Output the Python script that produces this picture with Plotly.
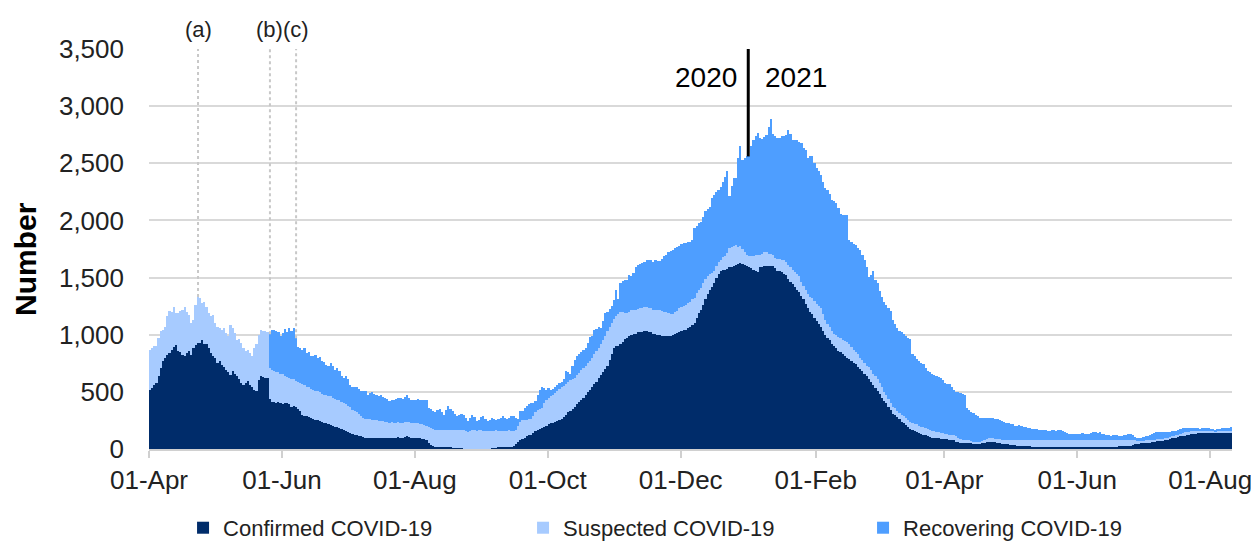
import pandas as pd
import plotly.graph_objects as go

# ---------------- data (daily, 01-Apr-2020 .. 10-Aug-2021) ----------------
start_date = "2020-04-01"

confirmed = [
    # Apr 2020
    520, 530, 560, 580, 640, 710, 770, 800, 820, 840, 870, 890, 910, 855, 850, 825, 810, 840, 855, 825,
    880, 910, 930, 930, 950, 920, 915, 880, 840, 810,
    # May 2020
    800, 755, 770, 735, 715, 695, 670, 650, 680, 660, 640, 610, 580, 560, 580, 595, 560, 540, 520, 510,
    600, 635, 630, 620, 625, 435, 410, 410, 400, 415, 400,
    # Jun 2020
    395, 400, 400, 390, 370, 380, 365, 350, 335, 300, 290, 285, 280, 270, 265, 255, 250, 245, 235, 230,
    225, 215, 210, 200, 195, 190, 180, 175, 165, 160,
    # Jul 2020
    150, 140, 130, 125, 120, 115, 110, 105, 100, 100, 100, 95, 100, 100, 95, 95, 100, 100, 95, 95,
    100, 100, 100, 105, 100, 100, 105, 110, 105, 100, 100,
    # Aug 2020
    100, 100, 95, 90, 85, 75, 50, 35, 25, 20, 17, 17, 15, 15, 15, 15, 15, 12, 10, 5,
    5, 5, 4, 4, 3, 3, 3, 3, 3, 3, 3,
    # Sep 2020
    3, 3, 3, 3, 5, 10, 12, 15, 15, 15, 15, 15, 18, 20, 25, 40, 60, 80, 90, 100,
    110, 120, 125, 140, 155, 170, 175, 185, 195, 205,
    # Oct 2020
    215, 225, 230, 240, 245, 255, 265, 280, 300, 320, 335, 350, 370, 390, 410, 430, 450, 470, 495, 520,
    540, 565, 590, 620, 645, 670, 700, 725, 780, 830, 885,
    # Nov 2020
    900, 905, 915, 935, 960, 975, 990, 1000, 1005, 1010, 1020, 1020, 1025, 1030, 1030, 1025, 1020, 1010, 1005, 1000,
    995, 990, 985, 985, 985, 990, 1000, 1005, 1015, 1020,
    # Dec 2020
    1030, 1040, 1045, 1055, 1070, 1085, 1100, 1150, 1190, 1220, 1260, 1310, 1355, 1390, 1420, 1450, 1500, 1530, 1560, 1570,
    1570, 1575, 1590, 1595, 1600, 1610, 1620, 1630, 1620, 1610, 1600,
    # Jan 2021
    1590, 1580, 1570, 1560, 1545, 1590, 1595, 1600, 1605, 1600, 1600, 1605, 1580, 1560, 1555, 1545, 1535, 1520, 1490, 1460,
    1440, 1420, 1395, 1370, 1340, 1310, 1270, 1230, 1200, 1180, 1150,
    # Feb 2021
    1120, 1095, 1070, 1035, 1000, 975, 950, 920, 900, 880, 860, 845, 830, 815, 800, 785, 770, 755, 740, 720,
    700, 680, 660, 635, 610, 585, 560, 535,
    # Mar 2021
    510, 480, 450, 420, 400, 370, 340, 310, 300, 280, 260, 240, 230, 210, 190, 175, 165, 155, 150, 140,
    135, 125, 120, 110, 105, 100, 95, 95, 95, 90, 90,
    # Apr 2021
    85, 85, 80, 80, 75, 65, 60, 55, 50, 50, 50, 50, 50, 50, 50, 50, 50, 50, 55, 60,
    65, 65, 65, 60, 55, 50, 45, 45, 40, 40,
    # May 2021
    35, 35, 35, 30, 30, 30, 30, 25, 25, 25, 20, 20, 20, 20, 20, 20, 20, 20, 20, 20,
    20, 20, 20, 20, 20, 20, 20, 20, 20, 20, 20,
    # Jun 2021
    20, 20, 20, 20, 20, 20, 20, 20, 20, 15, 15, 15, 15, 15, 20, 20, 20, 20, 20, 25,
    25, 25, 25, 30, 30, 35, 40, 45, 45, 50,
    # Jul 2021
    50, 55, 55, 60, 65, 65, 70, 70, 75, 75, 80, 85, 90, 95, 95, 100, 105, 110, 115, 115,
    120, 125, 130, 130, 135, 140, 140, 145, 145, 145, 145,
    # Aug 2021
    145, 145, 145, 145, 145, 145, 145, 145, 145, 145,
]

suspected = [
    # Apr 2020
    350, 350, 340, 325, 330, 320, 270, 270, 340, 370, 330, 350, 280, 335, 360, 390, 430, 360, 320, 275,
    250, 350, 400, 390, 325, 370, 330, 310, 320, 365,
    # May 2020
    300, 315, 290, 305, 345, 320, 315, 435, 380, 355, 315, 355, 345, 320, 275, 275, 280, 270, 360, 410,
    400, 405, 400, 410, 400, 275, 285, 270, 275, 255, 260,
    # Jun 2020
    260, 240, 230, 230, 240, 230, 230, 240, 245, 265, 270, 260, 260, 255, 250, 255, 255, 250, 250, 245,
    250, 250, 255, 250, 240, 240, 245, 240, 240, 235,
    # Jul 2020
    230, 225, 215, 210, 205, 190, 180, 170, 165, 160, 160, 160, 155, 150, 150, 150, 145, 140, 140, 135,
    135, 130, 130, 130, 130, 130, 130, 130, 130, 125, 125,
    # Aug 2020
    125, 125, 125, 125, 125, 130, 140, 145, 150, 150, 150, 150, 150, 150, 150, 155, 155, 155, 160, 160,
    160, 160, 160, 155, 150, 155, 160, 160, 155, 160, 160,
    # Sep 2020
    155, 155, 155, 155, 155, 150, 150, 145, 145, 145, 145, 145, 145, 140, 135, 130, 140, 160, 160, 155,
    145, 140, 135, 150, 165, 170, 175, 175, 205, 225,
    # Oct 2020
    230, 235, 240, 250, 260, 270, 280, 275, 270, 270, 265, 260, 255, 255, 255, 260, 260, 260, 255, 250,
    260, 265, 265, 260, 270, 280, 290, 305, 290, 270, 255,
    # Nov 2020
    260, 280, 280, 265, 230, 215, 210, 215, 215, 210, 205, 210, 210, 210, 210, 210, 210, 210, 210, 215,
    220, 215, 215, 210, 205, 195, 180, 190, 195, 210,
    # Dec 2020
    210, 215, 215, 220, 220, 225, 220, 215, 200, 190, 190, 180, 155, 140, 120, 110, 100, 110, 90, 110,
    120, 140, 170, 175, 180, 175, 150, 150, 130, 110, 100,
    # Jan 2021
    100, 110, 120, 140, 150, 110, 115, 120, 115, 110, 105, 95, 95, 105, 105, 110, 115, 120, 120, 130,
    130, 130, 135, 140, 125, 120, 120, 125, 130, 140, 145,
    # Feb 2021
    150, 160, 160, 145, 130, 120, 115, 110, 110, 115, 120, 125, 125, 130, 135, 130, 125, 115, 110, 110,
    100, 95, 95, 95, 105, 110, 100, 100,
    # Mar 2021
    100, 95, 90, 80, 75, 65, 60, 60, 60, 55, 55, 55, 55, 60, 65, 65, 60, 60, 65, 65,
    60, 65, 65, 65, 60, 60, 60, 55, 55, 50, 50,
    # Apr 2021
    50, 45, 45, 45, 45, 45, 40, 30, 30, 30, 25, 25, 20, 15, 15, 15, 15, 20, 25, 30,
    30, 30, 30, 30, 30, 35, 35, 35, 35, 35,
    # May 2021
    45, 45, 45, 50, 50, 50, 50, 50, 50, 55, 55, 55, 55, 55, 55, 55, 55, 55, 55, 55,
    55, 55, 55, 55, 55, 55, 55, 55, 55, 55, 55,
    # Jun 2021
    55, 55, 55, 55, 55, 55, 55, 55, 55, 60, 60, 60, 60, 60, 55, 55, 55, 55, 55, 50,
    50, 50, 50, 45, 45, 40, 35, 25, 25, 20,
    # Jul 2021
    20, 20, 20, 15, 15, 15, 15, 15, 15, 15, 15, 15, 15, 20, 20, 20, 20, 25, 25, 30,
    30, 25, 25, 25, 25, 20, 20, 15, 15, 15, 15,
    # Aug 2021
    15, 15, 10, 15, 15, 15, 15, 15, 15, 15,
]

recovering = [
    # Apr 2020
    0, 0, 0, 0, 0, 0, 0, 0, 0, 0, 0, 0, 0, 0, 0, 0, 0, 0, 0, 0,
    0, 0, 0, 0, 0, 0, 0, 0, 0, 0,
    # May 2020
    0, 0, 0, 0, 0, 0, 0, 0, 0, 0, 0, 0, 0, 0, 0, 0, 0, 0, 0, 0,
    0, 0, 0, 0, 0, 295, 350, 365, 355, 355, 325,
    # Jun 2020
    360, 410, 395, 440, 425, 450, 375, 300, 300, 305, 320, 295, 310, 285, 295, 315, 295, 310, 285, 290,
    260, 260, 290, 275, 260, 280, 255, 225, 220, 245,
    # Jul 2020
    230, 195, 195, 205, 215, 220, 220, 235, 240, 215, 230, 245, 230, 220, 215, 225, 210, 210, 205, 190,
    195, 195, 210, 215, 215, 210, 220, 230, 210, 200, 205,
    # Aug 2020
    200, 215, 210, 210, 220, 220, 170, 170, 160, 155, 175, 180, 155, 135, 175, 205, 180, 165, 140, 125,
    135, 145, 135, 110, 90, 110, 135, 115, 85, 95, 115,
    # Sep 2020
    130, 105, 85, 100, 115, 105, 90, 100, 115, 130, 110, 100, 110, 125, 130, 100, 60, 90, 80, 105,
    120, 130, 145, 110, 100, 130, 170, 180, 130, 90,
    # Oct 2020
    90, 60, 55, 50, 55, 55, 45, 60, 110, 80, 60, 115, 155, 165, 165, 160, 160, 150, 180, 210,
    190, 210, 195, 190, 145, 170, 200, 170, 155, 150, 160,
    # Nov 2020
    230, 125, 255, 270, 285, 290, 320, 300, 320, 370, 385, 385, 395, 400, 410, 420, 425, 420, 435, 430,
    430, 455, 490, 500, 530, 545, 560, 565, 560, 550,
    # Dec 2020
    550, 545, 540, 535, 525, 515, 610, 585, 590, 580, 580, 590, 590, 590, 660, 660, 650, 625, 640, 660,
    690, 715, 450, 530, 590, 585, 780, 870, 780, 830, 860,
    # Jan 2021
    870, 960, 1015, 1040, 1070, 1020, 1000, 1010, 1030, 1110, 1180, 1060, 1060, 1055, 1060, 1080, 1090, 1110, 1185, 1170,
    1135, 1155, 1170, 1180, 1215, 1200, 1230, 1190, 1230, 1240, 1205,
    # Feb 2021
    1190, 1175, 1170, 1160, 1150, 1170, 1165, 1150, 1160, 1155, 1125, 1090, 1095, 1100, 1110, 910, 915, 925, 935, 930,
    940, 925, 895, 860, 790, 830, 900, 845,
    # Mar 2021
    840, 810, 790, 785, 785, 800, 810, 760, 730, 725, 720, 725, 720, 715, 715, 720, 605, 595, 575, 565,
    555, 550, 525, 505, 505, 500, 495, 490, 480, 480, 460,
    # Apr 2021
    445, 440, 440, 420, 400, 390, 395, 405, 400, 395, 285, 265, 255, 250, 235, 220, 210, 200, 195, 185,
    180, 175, 175, 175, 175, 170, 165, 155, 155, 150,
    # May 2021
    140, 135, 125, 125, 130, 120, 115, 120, 110, 100, 100, 100, 100, 95, 90, 90, 90, 85, 85, 90,
    90, 85, 90, 95, 85, 70, 65, 60, 60, 60, 60,
    # Jun 2021
    60, 60, 65, 60, 55, 55, 65, 70, 70, 65, 70, 60, 55, 50, 45, 40, 45, 50, 45, 40,
    40, 45, 50, 55, 60, 45, 30, 25, 25, 25,
    # Jul 2021
    35, 40, 40, 45, 50, 60, 60, 60, 55, 55, 50, 45, 45, 40, 40, 35, 40, 40, 40, 40,
    35, 35, 30, 30, 25, 20, 15, 20, 20, 20, 20,
    # Aug 2021
    15, 15, 5, 10, 15, 20, 20, 25, 25, 30,
]

series_names = ["Confirmed COVID-19", "Suspected COVID-19", "Recovering COVID-19"]
series_colors = ["#002C6A", "#A7CBFF", "#4E9EFF"]

tick_dates = ["2020-04-01", "2020-06-01", "2020-08-01", "2020-10-01", "2020-12-01",
              "2021-02-01", "2021-04-01", "2021-06-01", "2021-08-01"]
tick_labels = ["01-Apr", "01-Jun", "01-Aug", "01-Oct", "01-Dec",
               "01-Feb", "01-Apr", "01-Jun", "01-Aug"]

event_labels = ["(a)", "(b)", "(c)"]
event_dates = ["2020-04-23", "2020-05-26", "2020-06-07"]
year_boundary = "2020-12-31"
year_labels = ["2020", "2021"]
y_title = "Number"

# ---------------- build ----------------
n = len(confirmed)
assert len(suspected) == n and len(recovering) == n
days = pd.date_range(start_date, periods=n, freq="D")
centers = days + pd.Timedelta(hours=12)
totals = pd.Series([c + s + r for c, s, r in zip(confirmed, suspected, recovering)], index=days)

FONT = "Liberation Sans, Arial, sans-serif"
fig = go.Figure()
for name, vals, col in zip(series_names, [confirmed, suspected, recovering], series_colors):
    fig.add_trace(go.Bar(x=centers, y=vals, name=name, marker=dict(color=col, line=dict(width=0))))

y_top = 3500
shapes = []
annotations = []
for lab, d in zip(event_labels, event_dates):
    xd = pd.Timestamp(d) + pd.Timedelta(hours=12)
    shapes.append(dict(type="line", xref="x", yref="y", x0=xd, x1=xd, y0=float(totals[pd.Timestamp(d)]), y1=y_top,
                       line=dict(color="#C8C8C8", width=2, dash="dot"), layer="above"))
    annotations.append(dict(x=xd, y=1.048, xref="x", yref="paper", text=lab, showarrow=False,
                            font=dict(family=FONT, size=22, color="#222222"), yanchor="middle"))

xb = pd.Timestamp(year_boundary) + pd.Timedelta(hours=24)
shapes.append(dict(type="line", xref="x", yref="y", x0=xb, x1=xb, y0=float(totals[pd.Timestamp(year_boundary)]),
                   y1=y_top, line=dict(color="#000000", width=3), layer="above"))
annotations.append(dict(x=xb, y=3250, xref="x", yref="y", text=year_labels[0], showarrow=False,
                        xanchor="right", xshift=-9, font=dict(family=FONT, size=28, color="#000000")))
annotations.append(dict(x=xb, y=3250, xref="x", yref="y", text=year_labels[1], showarrow=False,
                        xanchor="left", xshift=15, font=dict(family=FONT, size=28, color="#000000")))
# rotated y-axis title
annotations.append(dict(x=-0.1145, y=0.475, xref="paper", yref="paper", text="<b>%s</b>" % y_title,
                        showarrow=False, textangle=-90, xanchor="center", yanchor="middle",
                        font=dict(family=FONT, size=30, color="#000000")))

# the page body adds an 8px offset, so the figure is sized to the visible area
fig.update_layout(
    width=1251, height=536,
    margin=dict(l=141, r=27, t=41, b=95, autoexpand=False),
    paper_bgcolor="white", plot_bgcolor="white",
    barmode="stack", bargap=0.2,
    font=dict(family=FONT, color="#222222"),
    shapes=shapes, annotations=annotations,
    showlegend=True,
    legend=dict(orientation="h", xref="container", yref="container", x=0.5476, xanchor="center",
                y=0.03, yanchor="middle",
                font=dict(family=FONT, size=22, color="#222222"), traceorder="normal",
                entrywidth=295, entrywidthmode="pixels", itemwidth=30),
    xaxis=dict(type="date", range=[pd.Timestamp(start_date), days[-1] + pd.Timedelta(days=1)],
               tickmode="array", tickvals=tick_dates, ticktext=tick_labels, automargin=False,
               ticks="outside", ticklen=7, tickcolor="#D0D0D0", tickwidth=1.5,
               showline=True, linecolor="#D0D0D0", linewidth=1.5, showgrid=False, zeroline=False,
               tickfont=dict(family=FONT, size=26, color="#222222")),
    yaxis=dict(range=[0, y_top], dtick=500, tickformat=",", showgrid=True, gridcolor="#D9D9D9", gridwidth=1.5,
               zeroline=False, showline=False, ticks="", ticklabelstandoff=24, automargin=False,
               tickfont=dict(family=FONT, size=26, color="#222222")),
)

fig.write_html("out.html")
